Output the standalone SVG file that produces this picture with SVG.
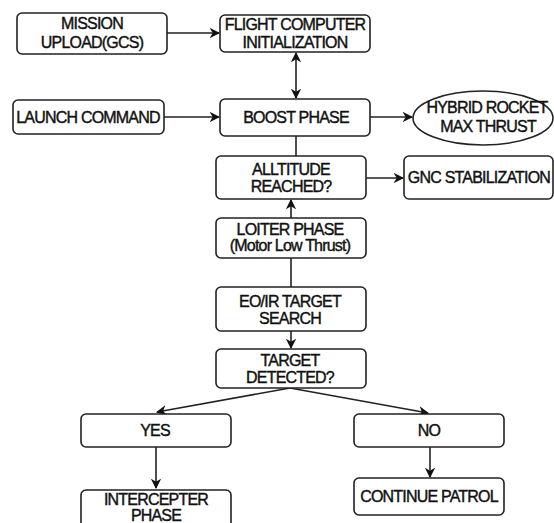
<svg xmlns="http://www.w3.org/2000/svg" width="554" height="523" viewBox="0 0 554 523">
<style>
.b{fill:#fff;stroke:#222;stroke-width:1.6}
.t{font-family:"Liberation Sans",Arial,sans-serif;font-size:16px;letter-spacing:-0.8px;fill:#111;text-anchor:middle;stroke:#111;stroke-width:0.4}
.c{fill:none;stroke:#222;stroke-width:1.6}
</style>
<defs>
<marker id="ah" viewBox="0 0 10 10" refX="9" refY="5" markerWidth="6.5" markerHeight="6.5" markerUnits="strokeWidth" orient="auto-start-reverse">
<path d="M0,0 L10,5 L0,10 L3,5 z" fill="#111"/>
</marker>
</defs>
<rect width="554" height="523" fill="#fff"/>
<g id="connectors">
<line class="c" x1="167" y1="33" x2="219" y2="33" marker-end="url(#ah)"/>
<line class="c" x1="296" y1="53" x2="296" y2="98" marker-start="url(#ah)" marker-end="url(#ah)"/>
<line class="c" x1="164" y1="117" x2="219" y2="117" marker-end="url(#ah)"/>
<line class="c" x1="370" y1="117" x2="412" y2="117" marker-end="url(#ah)"/>
<line class="c" x1="296" y1="136" x2="296" y2="156"/>
<line class="c" x1="366" y1="178" x2="403" y2="178" marker-end="url(#ah)"/>
<line class="c" x1="291" y1="218" x2="291" y2="200" marker-end="url(#ah)"/>
<line class="c" x1="291" y1="258" x2="291" y2="287"/>
<line class="c" x1="291" y1="331" x2="291" y2="348" marker-end="url(#ah)"/>
<line class="c" x1="290" y1="388" x2="157" y2="412" marker-end="url(#ah)"/>
<line class="c" x1="290" y1="388" x2="428" y2="413" marker-end="url(#ah)"/>
<line class="c" x1="156" y1="447" x2="156" y2="488" marker-end="url(#ah)"/>
<line class="c" x1="430" y1="447" x2="430" y2="477" marker-end="url(#ah)"/>
</g>
<g id="mission">
<rect class="b" x="17" y="13" width="150" height="41" rx="5"/>
<text class="t" x="92" y="29">MISSION</text>
<text class="t" x="92" y="48">UPLOAD(GCS)</text>
</g>
<g id="flight">
<rect class="b" x="220" y="15" width="150" height="37" rx="5"/>
<text class="t" x="295" y="30">FLIGHT COMPUTER</text>
<text class="t" x="295" y="48">INITIALIZATION</text>
</g>
<g id="launch">
<rect class="b" x="13" y="100" width="151" height="34" rx="5"/>
<text class="t" x="88" y="123">LAUNCH COMMAND</text>
</g>
<g id="boost">
<rect class="b" x="220" y="99" width="150" height="37" rx="5"/>
<text class="t" x="296" y="123">BOOST PHASE</text>
</g>
<g id="hybrid">
<ellipse class="b" cx="483" cy="118" rx="70" ry="27"/>
<text class="t" x="487" y="113">HYBRID ROCKET</text>
<text class="t" x="488" y="132">MAX THRUST</text>
</g>
<g id="altitude">
<rect class="b" x="216" y="156" width="150" height="43" rx="5"/>
<text class="t" x="291" y="175">ALLTITUDE</text>
<text class="t" x="291" y="192">REACHED?</text>
</g>
<g id="gnc">
<rect class="b" x="404" y="156" width="149" height="43" rx="5"/>
<text class="t" x="479" y="183">GNC STABILIZATION</text>
</g>
<g id="loiter">
<rect class="b" x="216" y="218" width="150" height="40" rx="5"/>
<text class="t" x="290" y="235">LOITER PHASE</text>
<text class="t" x="290" y="251">(Motor Low Thrust)</text>
</g>
<g id="eoir">
<rect class="b" x="216" y="287" width="150" height="44" rx="5"/>
<text class="t" x="290" y="307">EO/IR TARGET</text>
<text class="t" x="290" y="324">SEARCH</text>
</g>
<g id="target">
<rect class="b" x="216" y="349" width="150" height="39" rx="5"/>
<text class="t" x="290" y="366">TARGET</text>
<text class="t" x="290" y="383">DETECTED?</text>
</g>
<g id="yes">
<rect class="b" x="81" y="414" width="150" height="33" rx="5"/>
<text class="t" x="155" y="436">YES</text>
</g>
<g id="no">
<rect class="b" x="354" y="414" width="150" height="33" rx="5"/>
<text class="t" x="429" y="436">NO</text>
</g>
<g id="intercepter">
<rect class="b" x="81" y="490" width="150" height="45" rx="5"/>
<text class="t" x="156" y="505">INTERCEPTER</text>
<text class="t" x="156" y="521">PHASE</text>
</g>
<g id="continue">
<rect class="b" x="354" y="478" width="150" height="37" rx="5"/>
<text class="t" x="429" y="502">CONTINUE PATROL</text>
</g>
</svg>
